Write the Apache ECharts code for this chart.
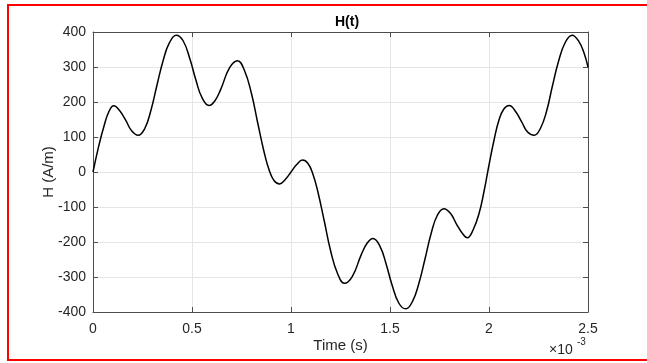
<!DOCTYPE html>
<html>
<head>
<meta charset="utf-8">
<script src="https://cdn.jsdelivr.net/npm/echarts@6/dist/echarts.min.js"></script>
<style>
  html, body { margin: 0; padding: 0; background: #fff; }
  #chart { width: 647px; height: 363px; }
</style>
</head>
<body>
<div id="chart"></div>
<script>
// Sample times (ms) and field strength H (A/m)
const timeMs = [
  0.000, 0.028, 0.055, 0.080, 0.105, 0.135, 0.165, 0.195, 0.228, 0.262,
  0.292, 0.323, 0.355, 0.385, 0.420, 0.455, 0.490, 0.520, 0.550, 0.586,
  0.615, 0.645, 0.690, 0.730, 0.765, 0.800, 0.832, 0.865, 0.890, 0.915,
  0.942, 0.970, 1.000, 1.030, 1.058, 1.085, 1.110, 1.135, 1.168, 1.200,
  1.235, 1.270, 1.310, 1.355, 1.385, 1.414, 1.450, 1.480, 1.510, 1.545,
  1.580, 1.615, 1.645, 1.677, 1.708, 1.738, 1.772, 1.805, 1.835, 1.865,
  1.890, 1.920, 1.950, 1.975, 2.000, 2.025, 2.050, 2.075, 2.102, 2.135,
  2.165, 2.195, 2.228, 2.260, 2.290, 2.320, 2.352, 2.385, 2.420, 2.455,
  2.480, 2.500
];
const fieldH = [
  0, 72, 130, 172, 189, 175, 148, 118, 105, 125,
  175, 248, 320, 368, 391, 375, 322, 262, 213, 190,
  203, 236, 298, 318, 290, 225, 140, 55, 5, -25,
  -34, -22, 0, 22, 34, 25, -5, -55, -140, -225,
  -290, -318, -298, -236, -203, -190, -213, -262, -322, -375,
  -391, -368, -320, -248, -175, -125, -105, -118, -148, -175,
  -188, -165, -118, -55, 20, 90, 148, 180, 190, 172,
  143, 114, 105, 125, 172, 245, 318, 370, 391, 372,
  340, 300
];

const xTicks = [0, 0.5, 1, 1.5, 2, 2.5];
const yTicks = [-400, -300, -200, -100, 0, 100, 200, 300, 400];

const points = timeMs.map((t, i) => [t, fieldH[i]]);

const font = 'Liberation Sans, Arial, Helvetica, sans-serif';
const axisColor = '#4d4d4d';
const textColor = '#262626';

const chart = echarts.init(document.getElementById('chart'), null, { renderer: 'canvas' });

const baseX = {
  type: 'value', min: xTicks[0], max: xTicks[xTicks.length - 1], interval: 0.5,
  axisLine: { show: true, onZero: false, lineStyle: { color: axisColor, width: 1 } },
  axisTick: { show: true, inside: true, length: 5, lineStyle: { color: axisColor } },
  splitLine: { show: false }
};
const baseY = {
  type: 'value', min: yTicks[0], max: yTicks[yTicks.length - 1], interval: 100,
  axisLine: { show: true, onZero: false, lineStyle: { color: axisColor, width: 1 } },
  axisTick: { show: true, inside: true, length: 5, lineStyle: { color: axisColor } },
  splitLine: { show: false }
};

chart.setOption({
  animation: false,
  backgroundColor: '#fff',
  title: {
    text: 'H(t)', left: 330, top: 10,
    textStyle: { fontFamily: font, fontSize: 14, fontWeight: 'bold', color: '#000' }
  },
  grid: { left: 93, right: 59, top: 32, bottom: 51 },
  xAxis: [
    Object.assign({}, baseX, {
      position: 'bottom',
      splitLine: { show: true, lineStyle: { color: '#e5e5e5', width: 1 } },
      axisLabel: {
        show: true, margin: 10, fontFamily: font, fontSize: 14, color: textColor,
        formatter: v => String(v)
      },
      name: 'Time (s)', nameLocation: 'middle', nameGap: 26, nameMoveOverlap: false,
      nameTextStyle: { fontFamily: font, fontSize: 15, color: textColor }
    }),
    Object.assign({}, baseX, { position: 'top', axisLabel: { show: false } })
  ],
  yAxis: [
    Object.assign({}, baseY, {
      position: 'left',
      splitLine: { show: true, lineStyle: { color: '#e5e5e5', width: 1 } },
      axisLabel: { show: true, margin: 7, fontFamily: font, fontSize: 14, color: textColor },
      name: 'H (A/m)', nameLocation: 'middle', nameGap: 37, nameRotate: 90, nameMoveOverlap: false,
      nameTextStyle: { fontFamily: font, fontSize: 15, color: textColor }
    }),
    Object.assign({}, baseY, { position: 'right', axisLabel: { show: false } })
  ],
  series: [{
    type: 'line',
    data: points,
    smooth: 0.45,
    showSymbol: false,
    lineStyle: { color: '#000', width: 1.5 },
    clip: true
  }],
  graphic: [
    {
      type: 'text', left: 549, top: 343,
      style: { text: '×10', fontFamily: font, fontSize: 14, fill: textColor }
    },
    {
      type: 'text', left: 577, top: 337,
      style: { text: '-3', fontFamily: font, fontSize: 10, fill: textColor }
    },
    {
      type: 'rect', silent: true,
      shape: { x: 8, y: 5, width: 700, height: 355 },
      style: { fill: 'none', stroke: '#ff0000', lineWidth: 2 }
    }
  ]
});
</script>
</body>
</html>
